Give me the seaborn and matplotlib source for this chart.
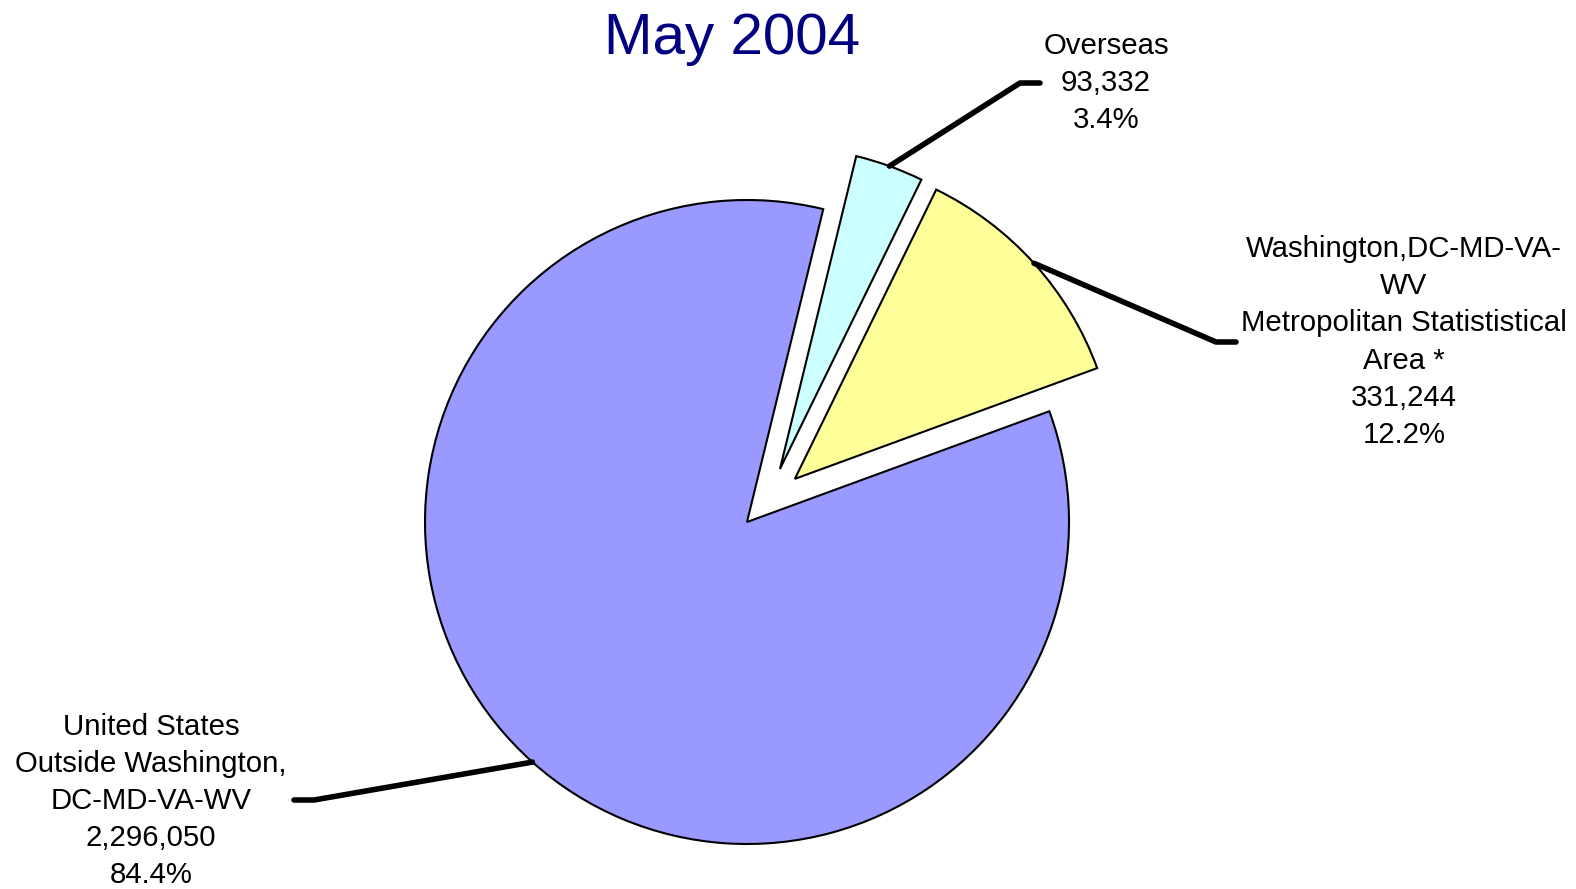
import numpy as np
import matplotlib
matplotlib.use("Agg")
import matplotlib.pyplot as plt
import seaborn as sns

# data
title = "May 2004"
regions = [
    "Overseas",
    "Washington,DC-MD-VA-\nWV\nMetropolitan Statististical\nArea *",
    "United States\nOutside Washington,\nDC-MD-VA-WV",
]
counts = [93332, 331244, 2296050]
percents = [3.4, 12.2, 84.4]
colors = ["#CCFFFF", "#FFFF99", "#9999FF"]

# how far each slice is pulled out (fraction of radius) and the tilt of that push
explode = [0.194, 0.2, 0.0]
skew = [-12, 0, 0]

sns.set_style("white")
plt.rcParams['font.family'] = ['Liberation Sans', 'DejaVu Sans']
plt.rcParams['text.color'] = 'black'

W, H = 1576, 889
R = 322          # pie radius in pixels
CX, CY = 747, 522  # pie centre in pixels (from top-left)


def px(x, y):
    """pixel position (top-left origin) -> data coords of the pie axes"""
    return (x - CX) / R, (CY - y) / R


fig = plt.figure(figsize=(W / 100, H / 100), dpi=100)
ax = fig.add_axes([0, 0, 1, 1])

wedges, _ = ax.pie(counts, colors=colors, startangle=76.3, counterclock=False,
                   wedgeprops=dict(edgecolor='black', linewidth=1.5))

# explode by hand so the thin slice can sit the way Excel put it
for w, ex, sk in zip(wedges, explode, skew):
    mid = np.deg2rad((w.theta1 + w.theta2) / 2 + sk)
    w.set_center((ex * np.cos(mid), ex * np.sin(mid)))

ax.set_xlim(px(0, 0)[0], px(W, 0)[0])
ax.set_ylim(px(0, H)[1], px(0, 0)[1])
ax.set_aspect('equal', adjustable='datalim')
ax.axis('off')

# label positions: elbow, end of leader, text centre (pixels)
label_layout = [
    ((1020, 83), (1040, 83), (1106, 83)),
    ((1216, 342), (1236, 342), (1404, 342)),
    ((314, 800), (294, 800), (151, 801)),
]

for w, name, n, p, (elbow, end, txt) in zip(wedges, regions, counts, percents, label_layout):
    mid = np.deg2rad((w.theta1 + w.theta2) / 2)
    cx, cy = w.center
    start = (cx + w.r * np.cos(mid), cy + w.r * np.sin(mid))
    e1 = px(*elbow)
    e2 = px(*end)
    ax.plot([start[0], e1[0], e2[0]], [start[1], e1[1], e2[1]], color='black',
            linewidth=4, solid_capstyle='round', solid_joinstyle='round')
    tx, ty = px(*txt)
    ax.text(tx, ty, f"{name}\n{n:,}\n{p}%", ha='center', va='center',
            fontsize=21.2, linespacing=1.41, color='black')

fig.text(732 / W, 1 - 39 / H, title, ha='center', va='center',
         fontsize=42, color='#000080')

fig.savefig("out.png", dpi=100)
